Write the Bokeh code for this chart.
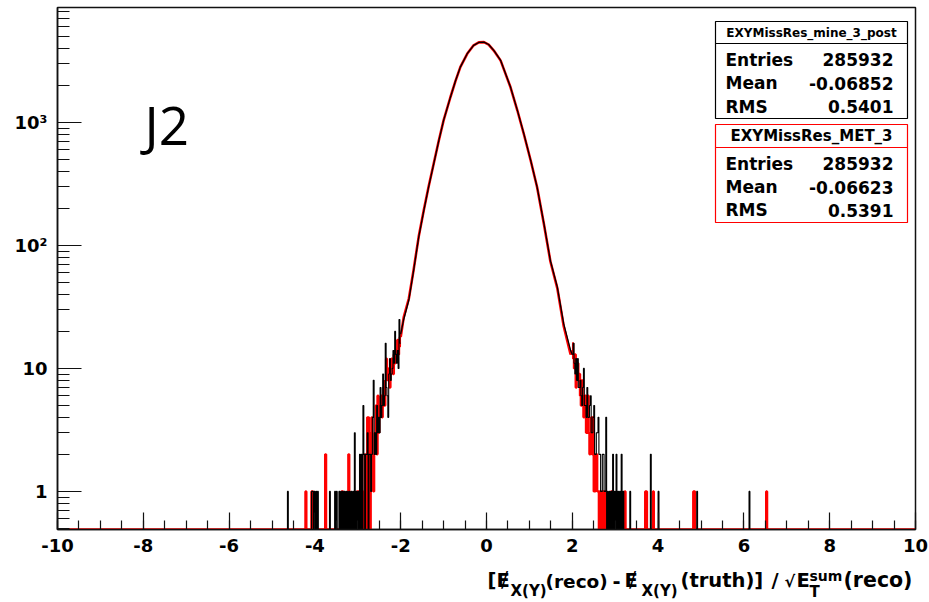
import numpy as np
from bokeh.plotting import figure
from bokeh.layouts import column
from bokeh.models import Range1d, FixedTicker, Label, BoxAnnotation
from bokeh.embed import file_html
from bokeh.resources import INLINE

# ---------------- data ----------------
bin_width = 0.02
x_lo, x_hi = -10.0, 10.0
y_lo, y_hi = 0.49, 8600.0

# smooth core of both histograms (bin contents)
core_x = [-2.00, -1.93, -1.81, -1.70, -1.58, -1.46, -1.35, -1.23, -1.11, -1.00,
          -0.84, -0.72, -0.61, -0.45, -0.30, -0.18, -0.06, 0.05, 0.17, 0.33,
          0.56, 0.72, 0.87, 1.03, 1.18, 1.34, 1.49, 1.65, 1.80, 1.96, 2.00]
core_black = [19, 25, 36, 62, 117, 193, 298, 461, 714, 1038,
              1606, 2193, 2818, 3620, 4230, 4470, 4500, 4300, 3850, 3190,
              1938, 1253, 810, 491, 298, 150, 75, 46, 23, 14, 13]
core_red = [18, 26, 37, 63, 118, 195, 300, 463, 716, 1040,
            1610, 2190, 2820, 3615, 4235, 4480, 4495, 4290, 3840, 3180,
            1930, 1250, 805, 490, 297, 148, 74, 45, 22, 13, 14]

# contiguous bins on the flanks: centres -2.79 ... -2.01 and 2.01 ... 2.79
flank_left_start, flank_right_start = -2.79, 2.01
black_left = [2, 3, 0, 2, 2, 1, 2, 4, 8, 2,
              3, 2, 5, 3, 4, 3, 7, 4, 5, 9,
              5, 6, 16, 7, 6, 4, 9, 12, 8, 9,
              10, 14, 11, 20, 13, 11, 14, 10, 25, 16]
black_right = [13, 16, 11, 9, 12, 8, 12, 7, 7, 8,
               6, 5, 7, 10, 5, 5, 4, 7, 4, 4,
               5, 6, 3, 3, 4, 5, 2, 2, 3, 3,
               4, 2, 2, 1, 1, 2, 2, 1, 1, 4]
red_left = [0, 4, 4, 1, 0, 3, 4, 2, 1, 2,
            3, 5, 2, 6, 3, 4, 5, 6, 4, 5,
            7, 5, 8, 12, 9, 8, 10, 7, 11, 12,
            10, 9, 13, 11, 14, 12, 17, 13, 15, 18]
red_right = [16, 12, 10, 13, 7, 9, 11, 8, 9, 6,
             5, 8, 6, 4, 5, 6, 3, 4, 6, 3,
             2, 3, 4, 2, 4, 1, 1, 2, 2, 1,
             1, 0, 1, 1, 0, 0, 1, 1, 0, 1]

# isolated outer bins (bin centre, entries)
black_out_x = [-4.63, -4.07, -4.05, -4.01, -3.97, -3.93, -3.65, -3.53, -3.49, -3.43,
               -3.39, -3.35, -3.31, -3.27, -3.23, -3.19, -3.15, -3.11, -3.07, -3.03,
               -2.99, -2.95, -2.91, -2.87, -2.85, -2.81,
               2.83, 2.87, 2.91, 2.95, 2.99, 3.03, 3.07, 3.11, 3.15, 3.19,
               3.35, 3.83, 4.01, 4.91, 6.13]
black_out_n = [1, 1, 1, 1, 1, 1, 1, 1, 1, 1,
               1, 1, 1, 1, 1, 1, 1, 1, 3, 1,
               1, 2, 2, 5, 2, 2,
               1, 1, 1, 2, 1, 2, 1, 1, 2, 1,
               1, 2, 1, 1, 1]
red_out_x = [-4.21, -4.07, -4.05, -3.75, -3.37, -3.35, -3.21, -3.01, -2.99, -2.89, -2.83,
             2.91, 2.95, 3.23, 3.71, 3.73, 3.89, 4.83, 4.85, 6.53]
red_out_n = [1, 1, 1, 2, 1, 1, 2, 1, 1, 1, 2,
             1, 1, 1, 1, 1, 1, 1, 1, 1]
assert len(black_out_x) == len(black_out_n) and len(red_out_x) == len(red_out_n)

x_major = [-10, -8, -6, -4, -2, 0, 2, 4, 6, 8, 10]
x_tick_labels = ["-10", "-8", "-6", "-4", "-2", "0", "2", "4", "6", "8", "10"]
y_major = [1, 10, 100, 1000]
y_tick_labels = {1: "1", 10: "10", 100: "10\u00b2", 1000: "10\u00b3"}

stats_black_title = "EXYMissRes_mine_3_post"
stats_red_title = "EXYMissRes_MET_3"
stats_names = ["Entries", "Mean", "RMS"]
stats_black = ["285932", "-0.06852", "0.5401"]
stats_red = ["285932", "-0.06623", "0.5391"]
tag_text = "J2"

# ---------------- layout ----------------
W, H = 929, 602
FL, FR, FT, FB = 57, 915, 7, 529          # frame edges (canvas px)
HM = 535                                   # height of main figure
H2 = H - HM                                # strip below for tick labels + title
FONT = "DejaVu Sans"
K_DEJAVU, K_OPEN = 0.35, 0.39              # baseline offset of a middle-anchored text (x font size)

def dx(cx):
    return x_lo + (cx - FL) / (FR - FL) * (x_hi - x_lo)

def dy(cy):
    l0, l1 = np.log10(y_lo), np.log10(y_hi)
    return 10 ** (l0 + (FB - cy) / (FB - FT) * (l1 - l0))

p = figure(width=W, height=HM, x_range=Range1d(x_lo, x_hi), y_range=Range1d(y_lo, y_hi),
           y_axis_type="log", output_backend="svg", toolbar_location=None,
           min_border_left=FL, min_border_right=W - FR, min_border_top=FT, min_border_bottom=HM - FB)
p.frame_align = False
p.background_fill_color = "white"
p.border_fill_color = "white"
p.xgrid.visible = False
p.ygrid.visible = False
p.outline_line_color = "#111111"
p.outline_line_width = 1.5

x_minor = [x_lo + 0.5 * i for i in range(41)]
p.xaxis.ticker = FixedTicker(ticks=x_major, minor_ticks=x_minor)
y_minor = [m * 10.0 ** e for e in range(-1, 4) for m in range(2, 10) if y_lo <= m * 10.0 ** e <= y_hi]
p.yaxis.ticker = FixedTicker(ticks=y_major, minor_ticks=y_minor)
p.yaxis.major_label_overrides = y_tick_labels
p.xaxis.major_label_overrides = {v: "" for v in x_major}
p.xaxis.major_label_text_font_size = "0px"
p.xaxis.major_label_standoff = 0

for ax in (p.xaxis[0], p.yaxis[0]):
    ax.axis_line_color = "#111111"
    ax.axis_line_width = 1.5
    ax.major_tick_line_color = "#111111"
    ax.minor_tick_line_color = "#111111"
    ax.major_tick_line_width = 1.2
    ax.minor_tick_line_width = 1.2
    ax.major_tick_out = 0
    ax.minor_tick_out = 0
p.yaxis.major_label_text_font = FONT
p.yaxis.major_label_text_font_style = "bold"
p.yaxis.major_label_text_font_size = "18px"
p.yaxis.major_label_text_color = "black"
p.xaxis.major_tick_in = 17
p.xaxis.minor_tick_in = 9
p.yaxis.major_tick_in = 24
p.yaxis.minor_tick_in = 12
p.yaxis.major_label_standoff = 10

# ---------------- histograms ----------------
n_bins = int(round((x_hi - x_lo) / bin_width))
edges = x_lo + bin_width * np.arange(n_bins + 1)
centres = edges[:-1] + bin_width / 2

def idx(x):
    return int(round((x - x_lo) / bin_width - 0.5))

def step_path(left_vals, right_vals, out_x, out_n):
    h = np.zeros(n_bins)
    for x, n in zip(out_x, out_n):
        h[idx(x)] = n
    for i, n in enumerate(left_vals):
        h[idx(flank_left_start + i * bin_width)] = n
    for i, n in enumerate(right_vals):
        h[idx(flank_right_start + i * bin_width)] = n
    h[(centres > core_x[0]) & (centres < core_x[-1])] = np.nan   # drawn by the core curve
    hv = np.where(np.isnan(h), np.nan, np.where(h > 0, h, y_lo))  # empty bins sit on the frame
    xs = np.repeat(edges, 2)[1:-1]
    ys = np.repeat(hv, 2)
    return xs, ys

xs_r, ys_r = step_path(red_left, red_right, red_out_x, red_out_n)
xs_b, ys_b = step_path(black_left, black_right, black_out_x, black_out_n)

p.line(xs_r, ys_r, line_color="red", line_width=2.4)
p.line(core_x, core_red, line_color="red", line_width=2.6)
p.line(xs_b, ys_b, line_color="black", line_width=1.1)
p.line(core_x, core_black, line_color="black", line_width=1.3)

# ---------------- text helper ----------------
def text(fig, x, y_of, base, t, size, align="left", font=FONT, style="bold"):
    k = K_OPEN if font == "Open Sans" else K_DEJAVU
    fig.add_layout(Label(x=x, y=y_of(base - k * size), text=t, text_font=font,
                         text_font_style=style, text_font_size=f"{size}px", text_align=align,
                         text_baseline="middle", text_color="black"))

# ---------------- stats boxes ----------------
def stats_box(top, sep, bottom, color, title, title_size, title_base, values, row_baselines):
    left, right = 715, 907
    for t, b in ((top, sep), (sep, bottom)):
        p.add_layout(BoxAnnotation(left=dx(left), right=dx(right), top=dy(t), bottom=dy(b),
                                   fill_color="white", fill_alpha=1, line_color=color,
                                   line_alpha=1, line_width=1.2))
    text(p, dx((left + right) / 2), dy, title_base, title, title_size, align="center")
    for name, val, b in zip(stats_names, values, row_baselines):
        text(p, dx(left + 10), dy, b, name, 17)
        text(p, dx(right - 14), dy, b, val, 17, align="right")

stats_box(21, 43, 118, "black", stats_black_title, 12, 36.5, stats_black, [65, 88.5, 112])
stats_box(124, 147, 222, "red", stats_red_title, 15, 141, stats_red, [169.3, 192.7, 215.5])

text(p, dx(144), dy, 145, tag_text, 53, font="Open Sans", style="normal")

# ---------------- strip below: tick labels and axis title ----------------
q = figure(width=W, height=H2, x_range=Range1d(dx(0), dx(W)), y_range=Range1d(H2, 0),
           output_backend="svg", toolbar_location=None, x_axis_location=None, y_axis_location=None,
           min_border_left=0, min_border_right=0, min_border_top=0, min_border_bottom=0)
q.frame_align = False
q.outline_line_color = None
q.background_fill_color = "white"
q.border_fill_color = "white"
q.xgrid.visible = False
q.ygrid.visible = False

def ry(row):
    return row - HM

for v, t in zip(x_major, x_tick_labels):
    text(q, v, ry, 551.5, t, 18, align="center")

MAIN, SUB, SUP = 19.5, 15, 14
base, sub_b, sup_b = 587, 596, 580
pieces = [
    (487, base, "[\u0246", MAIN),
    (510, sub_b, "X(Y)", SUB),
    (545, base, "(reco)", 18.5),
    (612, base, "-", MAIN),
    (624, base, "\u0246", MAIN),
    (641, sub_b, "X(Y)", SUB),
    (680, base, "(truth)]", MAIN),
    (771, base, "/", MAIN),
    (784, base, "\u221a", 16),
    (796, base, "E", MAIN),
    (809, sup_b, "sum", SUP),
    (809, sub_b + 1, "T", SUB),
    (843, base, "(reco)", 20.5),
]
for cx, cy, t, fs in pieces:
    text(q, dx(cx), ry, cy, t, fs)

layout = column(p, q, spacing=0)
open("out.html", "w").write(file_html(layout, INLINE))
